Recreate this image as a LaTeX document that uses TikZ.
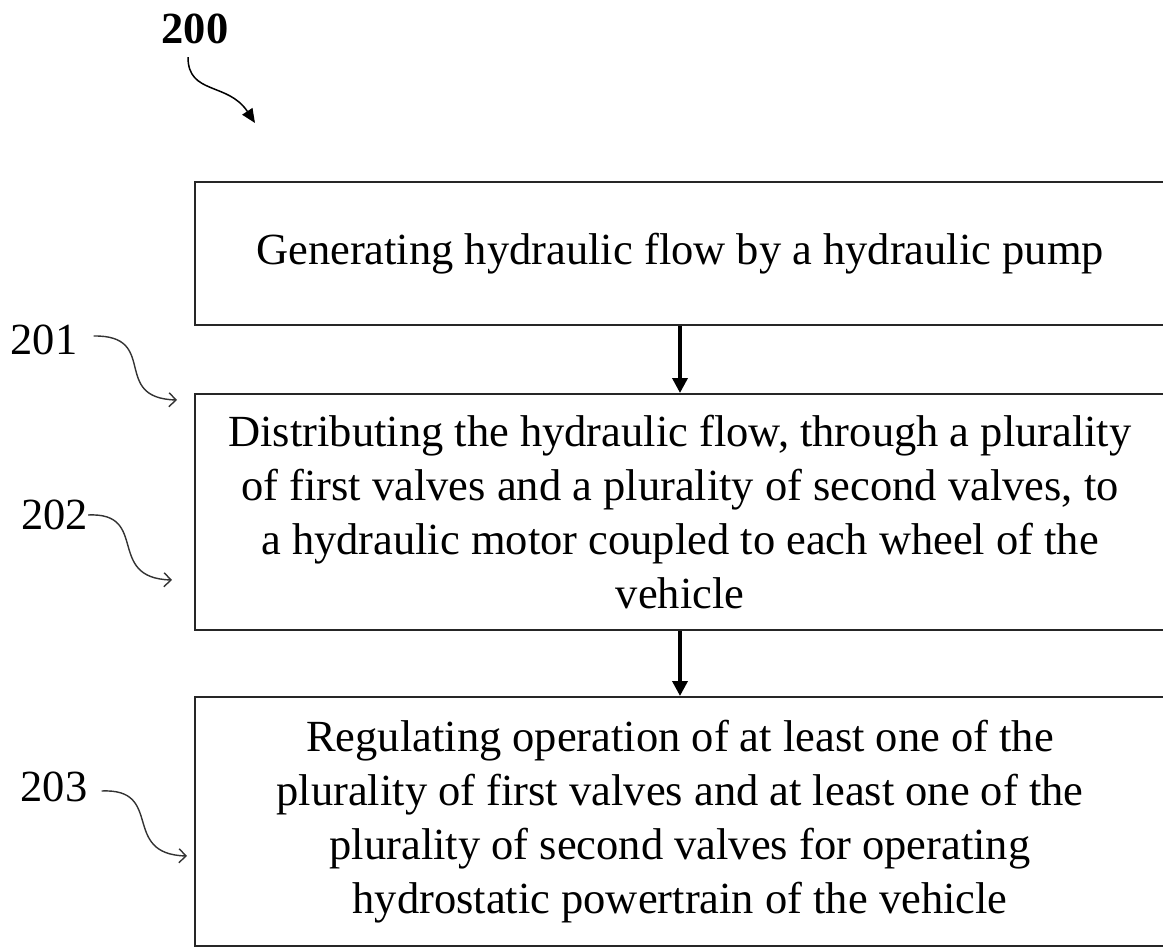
\documentclass[tikz,border=0pt]{standalone}
\usepackage{fontspec}
\setmainfont{Liberation Serif}
\usepackage{tikz}
\usetikzlibrary{arrows.meta}

\begin{document}
\begin{tikzpicture}[x=1pt, y=-1pt,
    font=\fontsize{44.5}{54}\selectfont,
    stepbox/.style={draw=black!85, line width=2pt, minimum width=970pt,
      align=center, inner sep=0pt},
    flow/.style={-{Triangle[length=15pt, width=15pt]}, line width=3.5pt},
    refnum/.style={inner sep=0pt},
    lead/.style={-{Straight Barb[length=7pt, width=14pt]}, line width=1.4pt, black!80}]
  \useasboundingbox (0,0) rectangle (1163,947);

  % method steps
  \node[stepbox, minimum height=143pt] (gen) at (680,253.5)
    {Generating hydraulic flow by a hydraulic pump};
  \node[stepbox, minimum height=236pt] (dist) at (680,512)
    {Distributing the hydraulic flow, through a plurality\\
     of first valves and a plurality of second valves, to\\
     a hydraulic motor coupled to each wheel of the\\
     vehicle};
  \node[stepbox, minimum height=249pt] (reg) at (680,821.5)
    {Regulating operation of at least one of the\\
     plurality of first valves and at least one of the\\
     plurality of second valves for operating\\
     hydrostatic powertrain of the vehicle};

  \draw[flow] (gen.south) -- (dist.north);
  \draw[flow] (dist.south) -- (reg.north);

  % reference numerals
  \node[refnum, font=\fontsize{44.5}{54}\selectfont\bfseries] (n200) at (195,29) {200};
  \node[refnum] (n201) at (44,340) {201};
  \node[refnum] (n202) at (54.5,515) {202};
  \node[refnum] (n203) at (54,787) {203};

  \coordinate (c200) at (255,123);
  \coordinate (c201) at (177,400);
  \coordinate (c202) at (172,580);
  \coordinate (c203) at (187,856);

  \draw[-{Triangle[length=14pt, width=12pt]}, line width=1.5pt]
    ([xshift=-7pt, yshift=-13pt]n200.south) .. controls (188,95) and (228,82) .. (c200);
  \draw[lead] ([xshift=16pt, yshift=4pt]n201.east) .. controls (160,335) and (110,398) .. (c201);
  \draw[lead] (n202.east) .. controls (150,512) and (105,578) .. (c202);
  \draw[lead] ([xshift=14pt, yshift=-4pt]n203.east) .. controls (165,788) and (120,854) .. (c203);
\end{tikzpicture}
\end{document}
